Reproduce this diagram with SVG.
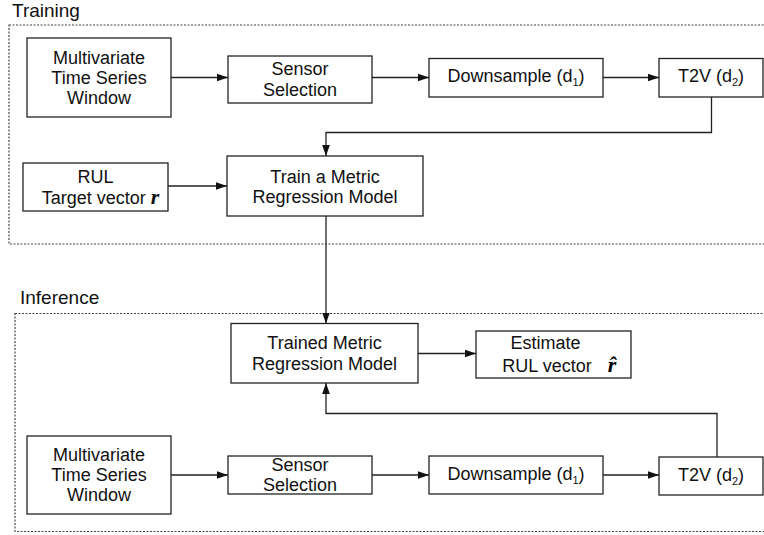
<svg xmlns="http://www.w3.org/2000/svg" width="764" height="535" viewBox="0 0 764 535">
<style>
.box{fill:#fff;stroke:#222;stroke-width:1.3}
.grp{fill:none;stroke:#444;stroke-width:1.2;stroke-dasharray:2 1.5}
.t{font-family:"Liberation Sans",Arial,sans-serif;font-size:18px;fill:#111;text-anchor:middle}
.lbl{font-family:"Liberation Sans",Arial,sans-serif;font-size:19px;fill:#111}
.sub{font-size:11px}
.m{font-family:"Liberation Serif","Times New Roman",serif;font-weight:bold;font-style:italic;font-size:22px}
.c{fill:none;stroke:#222;stroke-width:1.3}
</style>
<defs>
<marker id="ah" viewBox="0 0 10 10" refX="10" refY="5" markerWidth="11" markerHeight="11" markerUnits="userSpaceOnUse" orient="auto">
<path d="M0,1.5 L10,5 L0,8.5 z" fill="#111"/>
</marker>
</defs>
<rect width="764" height="535" fill="#fff"/>
<text class="lbl" x="12" y="16.5">Training</text>
<rect class="grp" x="9" y="25" width="760" height="219"/>
<text class="lbl" x="20" y="303.5">Inference</text>
<rect class="grp" x="15" y="313.5" width="754" height="218"/>

<g id="connectors">
<line class="c" x1="171" y1="77.5" x2="228" y2="77.5" marker-end="url(#ah)"/>
<line class="c" x1="372" y1="77.5" x2="429" y2="77.5" marker-end="url(#ah)"/>
<line class="c" x1="603" y1="77.5" x2="659" y2="77.5" marker-end="url(#ah)"/>
<polyline class="c" points="711.5,97 711.5,132.5 326,132.5 326,156" marker-end="url(#ah)"/>
<line class="c" x1="168" y1="186" x2="227" y2="186" marker-end="url(#ah)"/>
<line class="c" x1="326" y1="216" x2="326" y2="323.5" marker-end="url(#ah)"/>
<line class="c" x1="418" y1="353.5" x2="476" y2="353.5" marker-end="url(#ah)"/>
<polyline class="c" points="717,457 717,413.5 326,413.5 326,383" marker-end="url(#ah)"/>
<line class="c" x1="171" y1="475" x2="228" y2="475" marker-end="url(#ah)"/>
<line class="c" x1="372" y1="475" x2="429" y2="475" marker-end="url(#ah)"/>
<line class="c" x1="603" y1="475" x2="659" y2="475" marker-end="url(#ah)"/>
</g>

<g id="train_mts">
<rect class="box" x="27" y="38" width="144" height="79"/>
<text class="t" x="99" y="64">Multivariate</text>
<text class="t" x="99" y="84">Time Series</text>
<text class="t" x="99" y="104">Window</text>
</g>
<g id="train_sensor">
<rect class="box" x="228" y="56" width="144" height="47"/>
<text class="t" x="300" y="75">Sensor</text>
<text class="t" x="300" y="95.5">Selection</text>
</g>
<g id="train_down">
<rect class="box" x="429" y="58.5" width="174" height="38.5"/>
<text class="t" x="516" y="82">Downsample (d<tspan class="sub" dy="4">1</tspan><tspan dy="-4">)</tspan></text>
</g>
<g id="train_t2v">
<rect class="box" x="659" y="58.5" width="104" height="38.5"/>
<text class="t" x="711" y="82">T2V (d<tspan class="sub" dy="4">2</tspan><tspan dy="-4">)</tspan></text>
</g>
<g id="train_rul">
<rect class="box" x="23" y="163" width="145" height="48"/>
<text class="t" x="95.5" y="182.5">RUL</text>
<text class="t" x="100.5" y="204">Target vector <tspan class="m">r</tspan></text>
</g>
<g id="train_model">
<rect class="box" x="227" y="156" width="196" height="60"/>
<text class="t" x="325" y="182.5">Train a Metric</text>
<text class="t" x="325" y="202.5">Regression Model</text>
</g>

<g id="inf_model">
<rect class="box" x="231" y="323.5" width="187" height="59.5"/>
<text class="t" x="324.5" y="349">Trained Metric</text>
<text class="t" x="324.5" y="369.5">Regression Model</text>
</g>
<g id="inf_estimate">
<rect class="box" x="476" y="331" width="155" height="47"/>
<text class="t" x="545.5" y="349">Estimate</text>
<text class="t" x="547" y="371.5">RUL vector</text>
<text class="m" x="612" y="371.5" text-anchor="middle">r̂</text>
</g>
<g id="inf_mts">
<rect class="box" x="27" y="436" width="144" height="78"/>
<text class="t" x="99" y="461">Multivariate</text>
<text class="t" x="99" y="481">Time Series</text>
<text class="t" x="99" y="501">Window</text>
</g>
<g id="inf_sensor">
<rect class="box" x="228" y="456" width="144" height="38"/>
<text class="t" x="300" y="471">Sensor</text>
<text class="t" x="300" y="491">Selection</text>
</g>
<g id="inf_down">
<rect class="box" x="429" y="456" width="174" height="38"/>
<text class="t" x="516" y="479.5">Downsample (d<tspan class="sub" dy="4">1</tspan><tspan dy="-4">)</tspan></text>
</g>
<g id="inf_t2v">
<rect class="box" x="659" y="457" width="104" height="38"/>
<text class="t" x="711" y="480.5">T2V (d<tspan class="sub" dy="4">2</tspan><tspan dy="-4">)</tspan></text>
</g>
</svg>
